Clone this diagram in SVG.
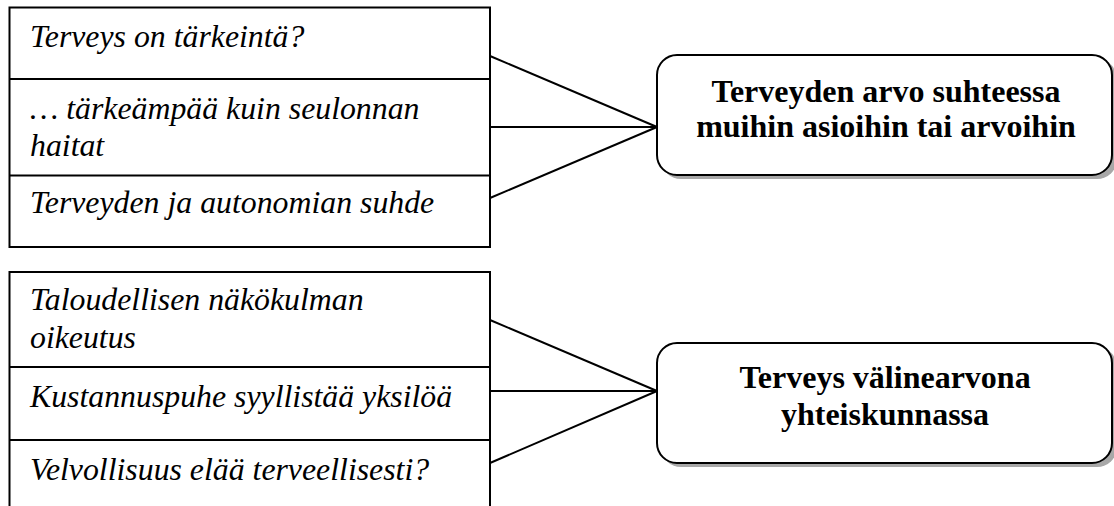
<svg xmlns="http://www.w3.org/2000/svg" width="1114" height="506" viewBox="0 0 1114 506">
  <style>
    .frame { fill: #ffffff; stroke: #000000; stroke-width: 2; }
    .rule { stroke: #000000; stroke-width: 2; fill: none; }
    .item { font-family: "Liberation Serif", "Times New Roman", serif; font-style: italic; font-size: 31.8px; fill: #000000; }
    .topic { font-family: "Liberation Serif", "Times New Roman", serif; font-weight: bold; font-size: 32px; fill: #000000; text-anchor: middle; }
    .shadow { fill: #a8a8a8; }
    .card { fill: #ffffff; stroke: #000000; stroke-width: 2; }
    .link { stroke: #000000; stroke-width: 2; fill: none; }
  </style>
  <rect width="1114" height="506" fill="#ffffff"/>

  <!-- list of factors, upper group -->
  <g id="list-arvo">
    <rect class="frame" x="9.5" y="7.5" width="480.5" height="239.5"/>
    <line class="rule" x1="9.5" y1="79" x2="490" y2="79"/>
    <line class="rule" x1="9.5" y1="175.5" x2="490" y2="175.5"/>
    <text class="item" x="30" y="47">Terveys on tärkeintä?</text>
    <text class="item" x="30" y="119">… tärkeämpää kuin seulonnan</text>
    <text class="item" x="30" y="156">haitat</text>
    <text class="item" x="30" y="213">Terveyden ja autonomian suhde</text>
  </g>

  <!-- list of factors, lower group (runs past the bottom edge) -->
  <g id="list-valine">
    <rect class="frame" x="9.5" y="272" width="480.5" height="260"/>
    <line class="rule" x1="9.5" y1="367" x2="490" y2="367"/>
    <line class="rule" x1="9.5" y1="440" x2="490" y2="440"/>
    <text class="item" x="30" y="310">Taloudellisen näkökulman</text>
    <text class="item" x="30" y="348">oikeutus</text>
    <text class="item" x="30" y="407">Kustannuspuhe syyllistää yksilöä</text>
    <text class="item" x="30" y="480">Velvollisuus elää terveellisesti?</text>
  </g>

  <!-- summary card, upper -->
  <g id="topic-arvo">
    <rect class="shadow" x="661" y="59" width="456" height="120" rx="20" ry="20"/>
    <rect class="card" x="657" y="55" width="455" height="120" rx="20" ry="20"/>
    <text class="topic" x="886" y="102">Terveyden arvo suhteessa</text>
    <text class="topic" x="886" y="137">muihin asioihin tai arvoihin</text>
  </g>

  <!-- summary card, lower -->
  <g id="topic-valine">
    <rect class="shadow" x="661" y="347" width="456" height="120" rx="20" ry="20"/>
    <rect class="card" x="657" y="343" width="455" height="120" rx="20" ry="20"/>
    <text class="topic" x="885" y="388">Terveys välinearvona</text>
    <text class="topic" x="885" y="425">yhteiskunnassa</text>
  </g>

  <!-- connectors fanning into each card -->
  <g id="connectors">
    <line class="link" x1="490" y1="56" x2="657" y2="127"/>
    <line class="link" x1="490" y1="127" x2="657" y2="127"/>
    <line class="link" x1="490" y1="198" x2="657" y2="127"/>
    <line class="link" x1="490" y1="320" x2="657" y2="391"/>
    <line class="link" x1="490" y1="391" x2="657" y2="391"/>
    <line class="link" x1="490" y1="463" x2="657" y2="391"/>
  </g>
</svg>
